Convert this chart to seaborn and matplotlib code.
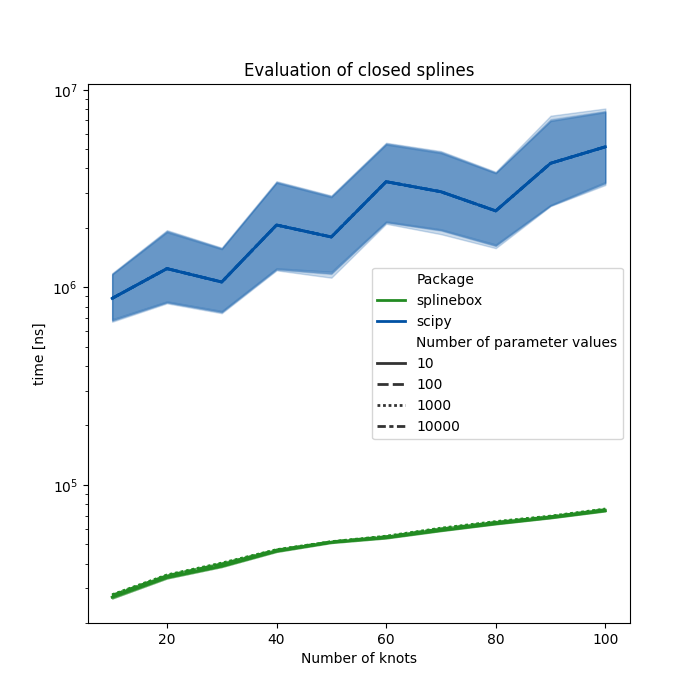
import numpy as np
import pandas as pd
import matplotlib
matplotlib.use("Agg")
import matplotlib.pyplot as plt
import seaborn as sns

# ========== DATA ==========
KNOTS = [10, 20, 30, 40, 50, 60, 70, 80, 90, 100]
N_PARAMS = [10, 100, 1000, 10000]
PACKAGES = ["splinebox", "scipy"]

# splinebox: median timing per style, plus a narrow min / max spread
SPLINEBOX_TIME = {
    10: [2.70e4, 3.40e4, 3.88e4, 4.62e4, 5.12e4, 5.40e4, 5.88e4, 6.36e4, 6.82e4, 7.40e4],
    100: [2.76e4, 3.47e4, 3.97e4, 4.68e4, 5.15e4, 5.47e4, 5.98e4, 6.46e4, 6.90e4, 7.50e4],
    1000: [2.78e4, 3.50e4, 4.02e4, 4.70e4, 5.16e4, 5.50e4, 6.04e4, 6.52e4, 6.95e4, 7.55e4],
    10000: [2.73e4, 3.44e4, 3.94e4, 4.65e4, 5.13e4, 5.44e4, 5.95e4, 6.42e4, 6.88e4, 7.46e4],
}
SPLINEBOX_LOW = [2.66e4, 3.36e4, 3.84e4, 4.58e4, 5.08e4, 5.36e4, 5.84e4, 6.32e4, 6.78e4, 7.35e4]
SPLINEBOX_HIGH = [2.80e4, 3.52e4, 4.05e4, 4.73e4, 5.19e4, 5.53e4, 6.07e4, 6.55e4, 6.98e4, 7.58e4]

# scipy: median line and min / max of the repeats
SCIPY_MID = [8.8e5, 1.245e6, 1.065e6, 2.07e6, 1.80e6, 3.43e6, 3.05e6, 2.44e6, 4.25e6, 5.15e6]
SCIPY_LOW = {
    10: [6.8e5, 8.4e5, 7.5e5, 1.24e6, 1.18e6, 2.14e6, 1.95e6, 1.63e6, 2.60e6, 3.38e6],
    100: [6.9e5, 8.5e5, 7.6e5, 1.25e6, 1.20e6, 2.16e6, 1.97e6, 1.65e6, 2.62e6, 3.42e6],
    1000: [6.8e5, 8.4e5, 7.5e5, 1.23e6, 1.17e6, 2.13e6, 1.94e6, 1.62e6, 2.59e6, 3.36e6],
    10000: [6.7e5, 8.3e5, 7.4e5, 1.22e6, 1.12e6, 2.10e6, 1.86e6, 1.58e6, 2.58e6, 3.30e6],
}
SCIPY_HIGH = {
    10: [1.17e6, 1.92e6, 1.57e6, 3.40e6, 2.88e6, 5.32e6, 4.82e6, 3.80e6, 7.00e6, 7.76e6],
    100: [1.16e6, 1.90e6, 1.56e6, 3.38e6, 2.86e6, 5.28e6, 4.78e6, 3.78e6, 6.95e6, 7.70e6],
    1000: [1.17e6, 1.93e6, 1.58e6, 3.42e6, 2.90e6, 5.36e6, 4.85e6, 3.82e6, 7.10e6, 7.82e6],
    10000: [1.18e6, 1.95e6, 1.59e6, 3.45e6, 2.92e6, 5.40e6, 4.90e6, 3.85e6, 7.40e6, 8.05e6],
}

COLORS = {"splinebox": "#228b22", "scipy": "#0051a3"}


def build_frame():
    rows = []
    for n in N_PARAMS:
        for i, k in enumerate(KNOTS):
            for t in (SPLINEBOX_LOW[i], SPLINEBOX_TIME[n][i], SPLINEBOX_HIGH[i]):
                rows.append((k, t, "splinebox", n))
            for t in (SCIPY_LOW[n][i], SCIPY_MID[i], SCIPY_HIGH[n][i]):
                rows.append((k, t, "scipy", n))
    return pd.DataFrame(rows, columns=["Number of knots", "time [ns]", "Package",
                                       "Number of parameter values"])


def main():
    df = build_frame()
    fig, ax = plt.subplots(figsize=(7, 7), dpi=100)
    sns.lineplot(data=df, x="Number of knots", y="time [ns]", hue="Package",
                 hue_order=PACKAGES, style="Number of parameter values",
                 palette=COLORS, estimator="median", errorbar=("pi", 100),
                 linewidth=2, ax=ax)
    ax.set_yscale("log")
    ax.set_title("Evaluation of closed splines")
    ax.legend(loc="center right")
    fig.savefig("out.png", dpi=100)


if __name__ == "__main__":
    main()
